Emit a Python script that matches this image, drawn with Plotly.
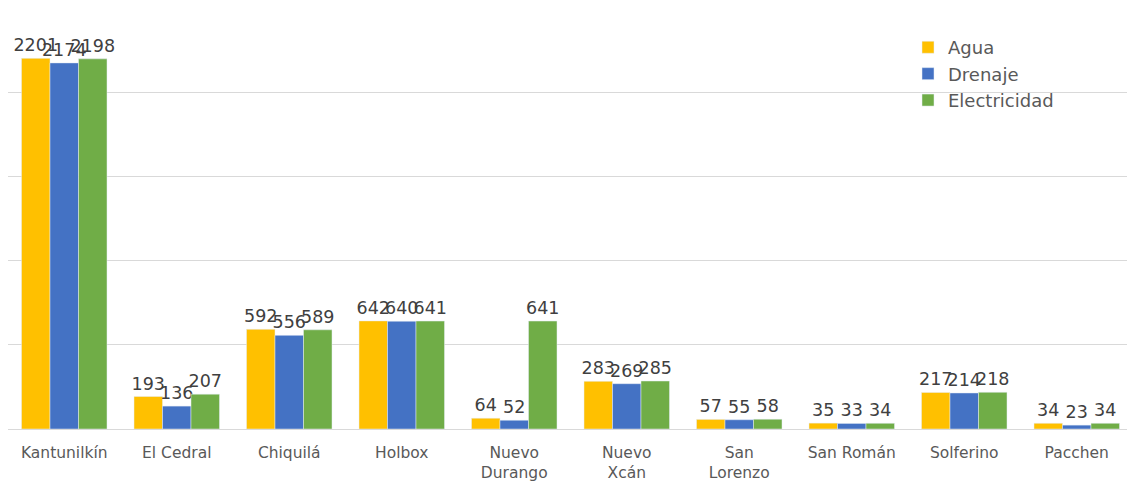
import plotly.graph_objects as go

categories = ["Kantunilkín", "El Cedral", "Chiquilá", "Holbox", "Nuevo<br>Durango",
              "Nuevo<br>Xcán", "San<br>Lorenzo", "San Román", "Solferino", "Pacchen"]
agua = [2201, 193, 592, 642, 64, 283, 57, 35, 217, 34]
drenaje = [2174, 136, 556, 640, 52, 269, 55, 33, 214, 23]
electricidad = [2198, 207, 589, 641, 641, 285, 58, 34, 218, 34]

series = [("Agua", agua, "#FFC000"), ("Drenaje", drenaje, "#4472C4"), ("Electricidad", electricidad, "#70AD47")]

FONT = "DejaVu Sans"

fig = go.Figure()
for name, vals, col in series:
    fig.add_trace(go.Bar(
        x=categories, y=vals, name=name, marker_color=col,
        text=[str(v) for v in vals], textposition="outside", constraintext="none",
        textfont=dict(size=17.5, color="#404040", family=FONT), cliponaxis=False,
    ))

fig.update_layout(
    width=1127, height=479, barmode="group", bargap=0.24, bargroupgap=0,
    margin=dict(l=0, r=2, t=0, b=58),
    plot_bgcolor="white", paper_bgcolor="white",
    font=dict(family=FONT, color="#595959"),
    legend=dict(x=0.8, y=0.95, xanchor="left", yanchor="top", font=dict(size=18, color="#595959"),
                bgcolor="rgba(0,0,0,0)", tracegroupgap=0, itemwidth=30),
    showlegend=True,
)
fig.update_xaxes(tickfont=dict(size=15.5, color="#595959"), showline=True, linecolor="#d9d9d9",
                 ticks="outside", tickcolor="rgba(0,0,0,0)", ticklen=9)
fig.update_yaxes(range=[0, 2500], dtick=500, showticklabels=False, gridcolor="#d9d9d9",
                 zeroline=False)

fig.write_html("out.html")
